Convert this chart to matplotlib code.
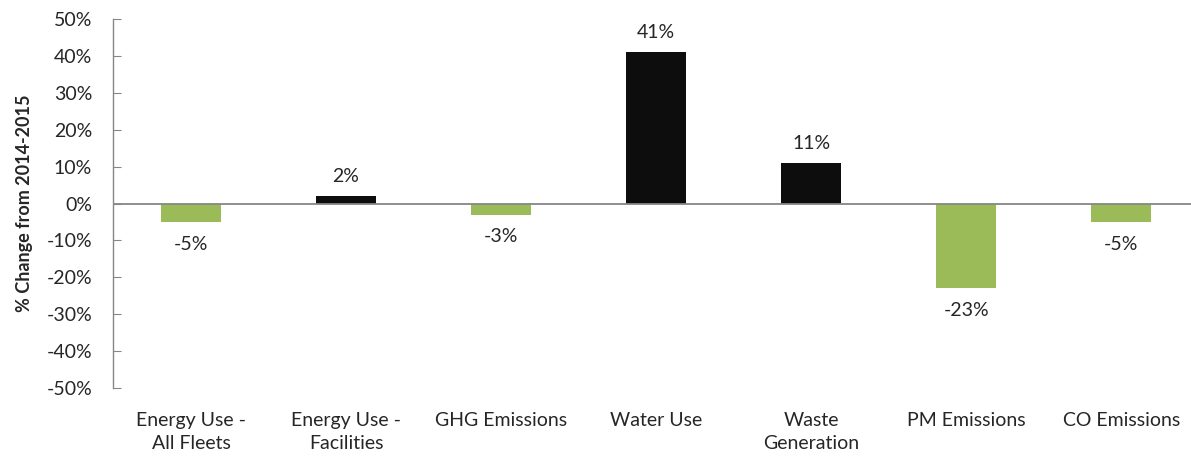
import matplotlib.pyplot as plt
from matplotlib.ticker import FuncFormatter

categories = ['Energy Use -\nAll Fleets', 'Energy Use -\nFacilities', 'GHG Emissions',
              'Water Use', 'Waste\nGeneration', 'PM Emissions', 'CO Emissions']
pct_change = [-5, 2, -3, 41, 11, -23, -5]

plt.rcParams['font.family'] = ['Lato', 'DejaVu Sans']

fig = plt.figure(figsize=(11.91, 4.58), dpi=100)
ax = fig.add_axes([0.0949, 0.1528, 0.9051, 0.8057])

colors = ['#9BBB59' if v < 0 else '#0D0D0D' for v in pct_change]
x = range(len(categories))
bars = ax.bar(x, pct_change, width=0.39, color=colors, zorder=2)

for b, v in zip(bars, pct_change):
    cx = b.get_x() + b.get_width() / 2
    if v >= 0:
        ax.annotate(f'{v}%', (cx, v), xytext=(0, 8), textcoords='offset points',
                    ha='center', va='bottom', fontsize=14, color='#262626')
    else:
        ax.annotate(f'{v}%', (cx, v), xytext=(0, -10), textcoords='offset points',
                    ha='center', va='top', fontsize=14, color='#262626')

ax.set_xlim(-0.503, 6.45)
ax.set_ylim(-50, 50)
ax.set_yticks(range(-50, 51, 10))
ax.yaxis.set_major_formatter(FuncFormatter(lambda v, _: f'{v:.0f}%'))
ax.set_xticks(list(x))
ax.set_xticklabels(categories, fontsize=14, color='#262626', linespacing=1.45)
ax.tick_params(axis='x', length=0, pad=17)
ax.tick_params(axis='y', labelsize=14, labelcolor='#262626', direction='in',
               length=6, color='#868686', pad=15)

ax.axhline(0, color='#868686', lw=1.3, zorder=3)
for side in ['top', 'right', 'bottom']:
    ax.spines[side].set_visible(False)
ax.spines['left'].set_color('#868686')
ax.spines['left'].set_linewidth(1.0)

ax.set_ylabel('% Change from 2014-2015', fontsize=13, fontweight='bold', color='#262626', labelpad=10)

fig.savefig('out.png', dpi=100)
